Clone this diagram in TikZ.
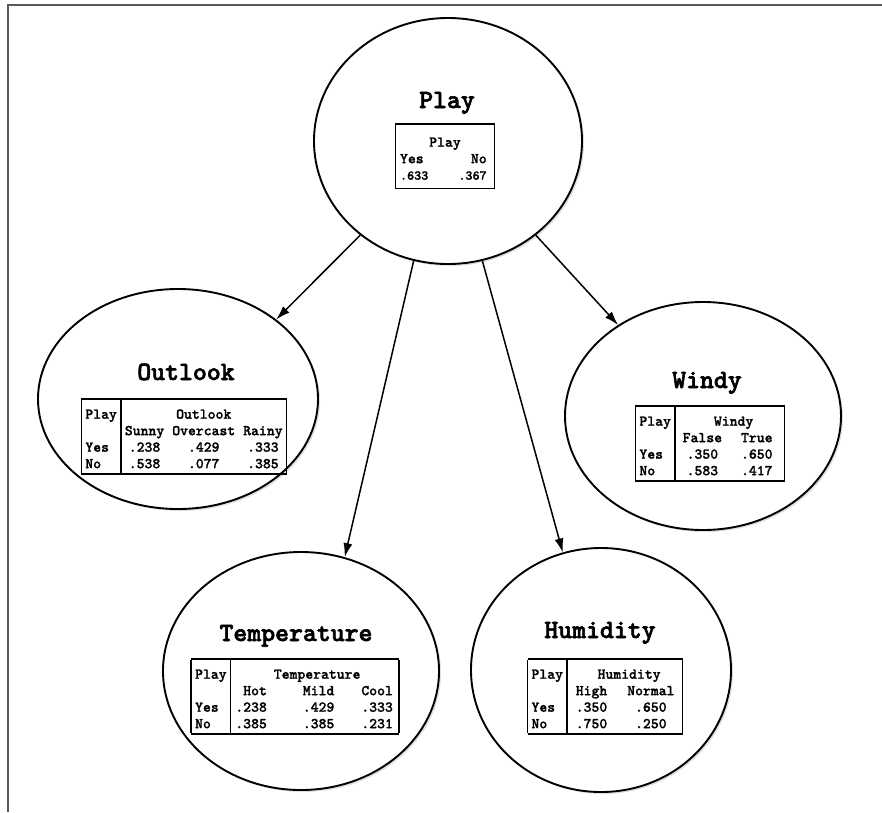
\documentclass[tikz,border=0pt]{standalone}
\usepackage{fontspec}
\newfontfamily\mono[FakeBold=2.2]{lmmonolt10-bold.otf}
\newfontfamily\monotab[FakeBold=1.2]{lmmonolt10-bold.otf}
\usetikzlibrary{arrows.meta,shapes.geometric,shadows}
\newcommand\tblsetup{\setlength{\arrayrulewidth}{1.5pt}\setlength{\tabcolsep}{4pt}}
\newcommand\topstrut{\rule{0pt}{19pt}}
\begin{document}
\begin{tikzpicture}[x=1pt,y=-1pt,
  concept/.style={ellipse, draw, line width=1.9pt, fill=white, inner sep=0pt,
    drop shadow={opacity=0.25, shadow xshift=2pt, shadow yshift=-2pt}},
  ttl/.style={font=\mono\fontsize{26.5}{30}\selectfont, anchor=base, inner sep=0pt},
  tbl/.style={font=\monotab\fontsize{15}{16.5}\selectfont, anchor=north, inner sep=0pt},
  link/.style={-{Latex[length=14pt,width=9pt]}, line width=1.5pt}
]
\useasboundingbox (0,0) rectangle (882,812);
\draw[line width=2.5pt, black!65] (882,5) -- (8,5) -- (8,812);

% concept ellipses
\node[concept, minimum width=268pt, minimum height=246pt] (play) at (448,141) {};
\node[concept, minimum width=280pt, minimum height=220pt] (outlook) at (178,399) {};
\node[concept, minimum width=276pt, minimum height=228pt] (windy) at (703,416) {};
\node[concept, minimum width=276pt, minimum height=238pt] (temp) at (301,671) {};
\node[concept, minimum width=260pt, minimum height=244pt] (humid) at (601,670) {};

% titles
\node[ttl] (playttl) at (447,108) {Play};
\node[ttl] (outlookttl) at (186,380) {Outlook};
\node[ttl] (windyttl) at (707,388) {Windy};
\node[ttl] (tempttl) at (296,641) {Temperature};
\node[ttl] (humidttl) at (600,638) {Humidity};

% tables
\node[tbl] (playtab) at (445,123) {\tblsetup\begin{tabular}{|@{\hspace{4pt}}l@{\hspace{30pt}}r@{\hspace{8pt}}|}\hline
\multicolumn{2}{|c|}{\rule{0pt}{22pt}Play}\\
Yes & No\\
\fontsize{13.5}{16.5}\selectfont .633 & \fontsize{13.5}{16.5}\selectfont .367\rule[-8pt]{0pt}{8pt}\\\hline
\end{tabular}};

\node[tbl] (outlooktab) at (184,398) {\tblsetup\begin{tabular}{|l|ccc|}\hline
\topstrut Play & \multicolumn{3}{c|}{Outlook}\\
 & Sunny & Overcast & Rainy\\
Yes & .238 & .429 & .333\\
No & .538 & .077 & .385\\\hline
\end{tabular}};

\node[tbl] (windytab) at (710,405) {\tblsetup\begin{tabular}{|l|@{\hspace{7pt}}c@{\hspace{19pt}}c@{\hspace{12pt}}|}\hline
\topstrut Play & \multicolumn{2}{c|}{Windy}\\
 & False & True\\
Yes & .350 & .650\\
No & .583 & .417\\\hline
\end{tabular}};

\node[tbl] (temptab) at (295,658) {\tblsetup\begin{tabular}{|l|@{\hspace{4pt}}r@{\hspace{36pt}}r@{\hspace{27pt}}r@{\hspace{6pt}}|}\hline
\topstrut Play & \multicolumn{3}{c|}{Temperature}\\
 & Hot & Mild & Cool\\
Yes & .238 & .429 & .333\\
No & .385 & .385 & .231\\\hline
\end{tabular}};

\node[tbl] (humidtab) at (605,658) {\tblsetup\begin{tabular}{|l|@{\hspace{8pt}}c@{\hspace{20pt}}c@{\hspace{8pt}}|}\hline
\topstrut Play & \multicolumn{2}{c|}{Humidity}\\
 & High & Normal\\
Yes & .350 & .650\\
No & .750 & .250\\\hline
\end{tabular}};

% links
\draw[link] (play.227) -- (outlook.39);
\draw[link] (play.254) -- (temp.69);
\draw[link] (play.286) -- (humid.108);
\draw[link] (play.313) -- (windy.133);
\end{tikzpicture}
\end{document}
